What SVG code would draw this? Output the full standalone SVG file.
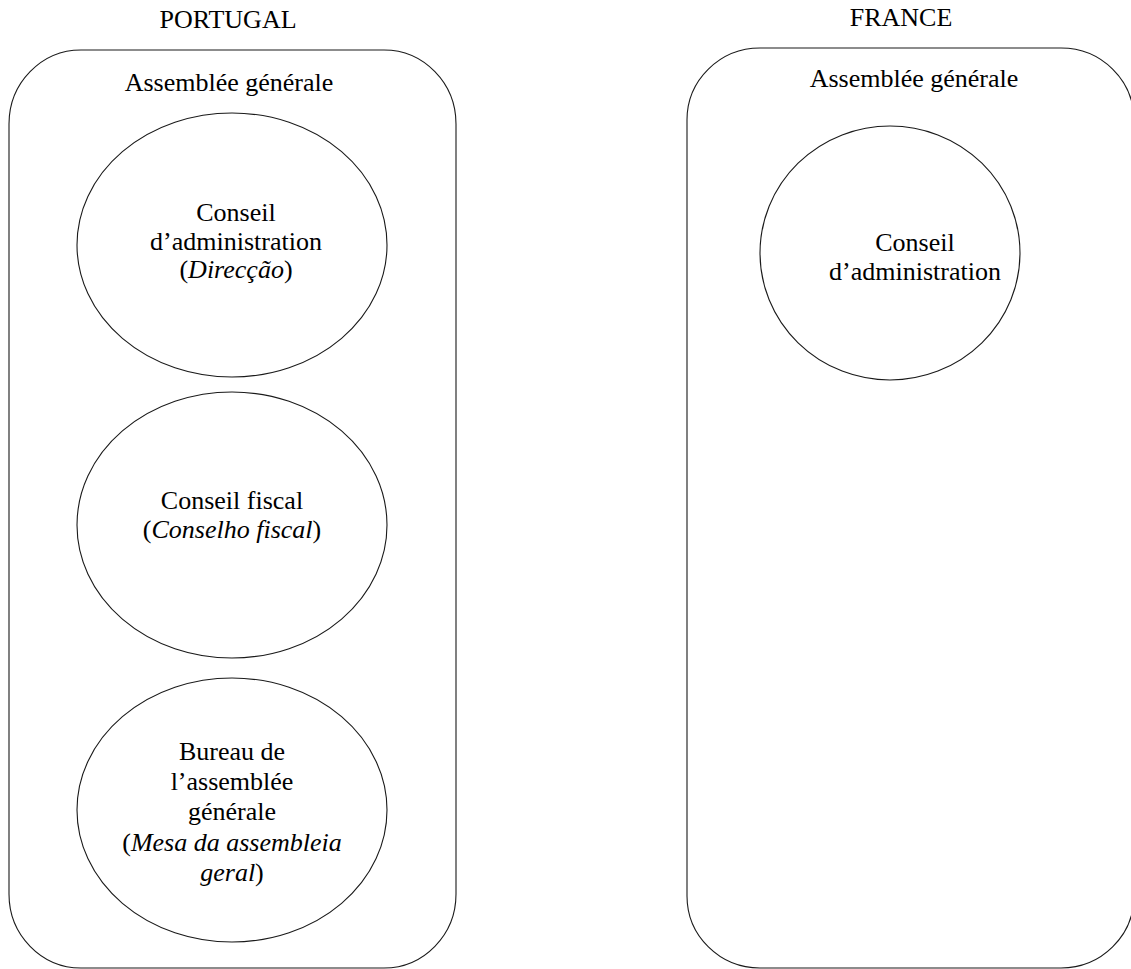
<svg xmlns="http://www.w3.org/2000/svg" width="1131" height="969" viewBox="0 0 1131 969">
  <style>
    .frame { fill: none; stroke: #1a1a1a; stroke-width: 1.1; }
    .organ { fill: none; stroke: #1a1a1a; stroke-width: 1.1; }
    text { font-family: "Liberation Serif", "Times New Roman", serif; font-size: 26px; fill: #000; text-anchor: middle; }
    .it { font-style: italic; }
  </style>
  <rect width="1131" height="969" fill="#fff"/>

  <!-- Country headings -->
  <g id="heading-portugal"><text x="228" y="28">PORTUGAL</text></g>
  <g id="heading-france"><text x="901" y="26">FRANCE</text></g>

  <!-- Portugal: general assembly container -->
  <g id="pt-assemblee">
    <rect class="frame" x="9" y="50" width="447" height="918" rx="72" ry="74"/>
    <text x="229" y="91">Assemblée générale</text>
  </g>

  <g id="pt-direccao">
    <ellipse class="organ" cx="232" cy="245" rx="155" ry="132"/>
    <text x="236" y="221">Conseil</text>
    <text x="236" y="250">d’administration</text>
    <text x="236" y="278">(<tspan class="it">Direcção</tspan>)</text>
  </g>

  <g id="pt-conselho-fiscal">
    <ellipse class="organ" cx="232" cy="525" rx="155" ry="133"/>
    <text x="232" y="509">Conseil fiscal</text>
    <text x="232" y="538">(<tspan class="it">Conselho fiscal</tspan>)</text>
  </g>

  <g id="pt-mesa">
    <ellipse class="organ" cx="232" cy="810" rx="155" ry="132"/>
    <text x="232" y="760">Bureau de</text>
    <text x="232" y="790">l’assemblée</text>
    <text x="232" y="820">générale</text>
    <text x="232" y="851">(<tspan class="it">Mesa da assembleia</tspan></text>
    <text x="232" y="881"><tspan class="it">geral</tspan>)</text>
  </g>

  <!-- France: general assembly container -->
  <g id="fr-assemblee">
    <rect class="frame" x="687" y="48" width="447" height="920" rx="73" ry="72"/>
    <text x="914" y="87">Assemblée générale</text>
  </g>

  <g id="fr-conseil">
    <ellipse class="organ" cx="890" cy="253" rx="130" ry="127"/>
    <text x="915" y="251">Conseil</text>
    <text x="915" y="280">d’administration</text>
  </g>

  <!-- No connectors in this figure -->
  <g id="connectors"/>
</svg>
